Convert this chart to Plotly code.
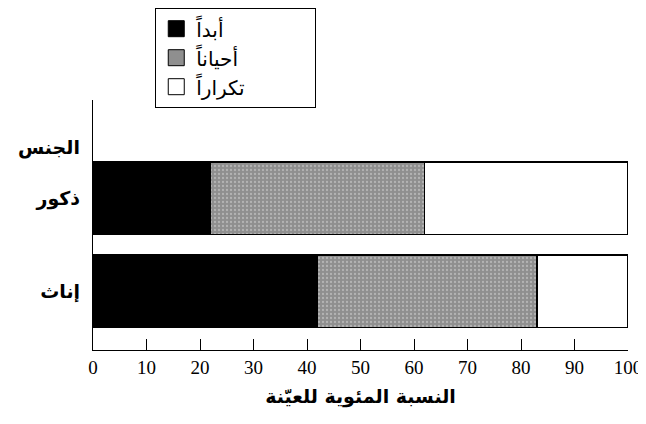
import plotly.graph_objects as go

groups = ["إناث", "ذكور"]
group_pos = [0, 1]
series = ["أبداً", "أحياناً", "تكراراً"]
never = [42, 22]
sometimes = [41, 40]
often = [17, 38]
colors = ["#000000", "#8f8f8f", "#ffffff"]

x_ticks = [0, 10, 20, 30, 40, 50, 60, 70, 80, 90, 100]

pad = "\u2003" * 3 + "\u2009"  # widens the legend box like the original

fig = go.Figure()

for name, vals, col in zip(series, [never, sometimes, often], colors):
    pattern = dict(shape=".", fgcolor="#d8d8d8", bgcolor=col, size=4, solidity=0.25) if name == "أحياناً" else None
    fig.add_trace(go.Bar(
        y=group_pos, x=vals, orientation="h", name=name, width=0.78,
        marker=dict(color=col, line=dict(color="black", width=1.5), pattern=pattern),
        showlegend=False,
    ))
    # legend entry with bigger square
    fig.add_trace(go.Scatter(
        x=[None], y=[None], mode="markers", name="\u200e" + name + pad,
        marker=dict(symbol="square", size=16, color=col, line=dict(color="black", width=1)),
    ))

fig.add_annotation(text="<b>الجنس</b>", xref="paper", yref="y", x=-0.02, y=1.54,
                   xanchor="right", yanchor="middle", showarrow=False,
                   font=dict(size=19, color="black", family="DejaVu Sans"))

fig.update_layout(
    width=630, height=400,
    barmode="stack",
    plot_bgcolor="white", paper_bgcolor="white",
    margin=dict(l=85, r=10, t=92, b=58, autoexpand=False),
    font=dict(family="Liberation Serif, DejaVu Sans", color="black"),
    legend=dict(x=0.116, y=1.368, xanchor="left", yanchor="top",
                bordercolor="black", borderwidth=1.2, traceorder="normal",
                font=dict(size=20, family="DejaVu Sans"), itemwidth=30,
                tracegroupgap=0),
    xaxis=dict(range=[0, 100], tickvals=x_ticks, ticks="inside", ticklen=11,
               tickcolor="black", showline=True, linecolor="black", linewidth=1.2,
               showgrid=False, zeroline=False, automargin=False, ticklabeloverflow="allow",
               tickfont=dict(size=19, family="Times New Roman, Liberation Serif, serif"),
               title=dict(text="<b>النسبة المئوية للعيّنة</b>", standoff=14,
                          font=dict(size=19, family="DejaVu Sans"))),
    yaxis=dict(range=[-0.634, 2.054], tickvals=group_pos, ticktext=["<b>%s</b>" % g for g in groups],
               ticks="", showline=True, linecolor="black", linewidth=1.2, showgrid=False,
               zeroline=False, ticklabelstandoff=8, automargin=False,
               tickfont=dict(size=19, family="DejaVu Sans")),
)

fig.write_html("out.html")
